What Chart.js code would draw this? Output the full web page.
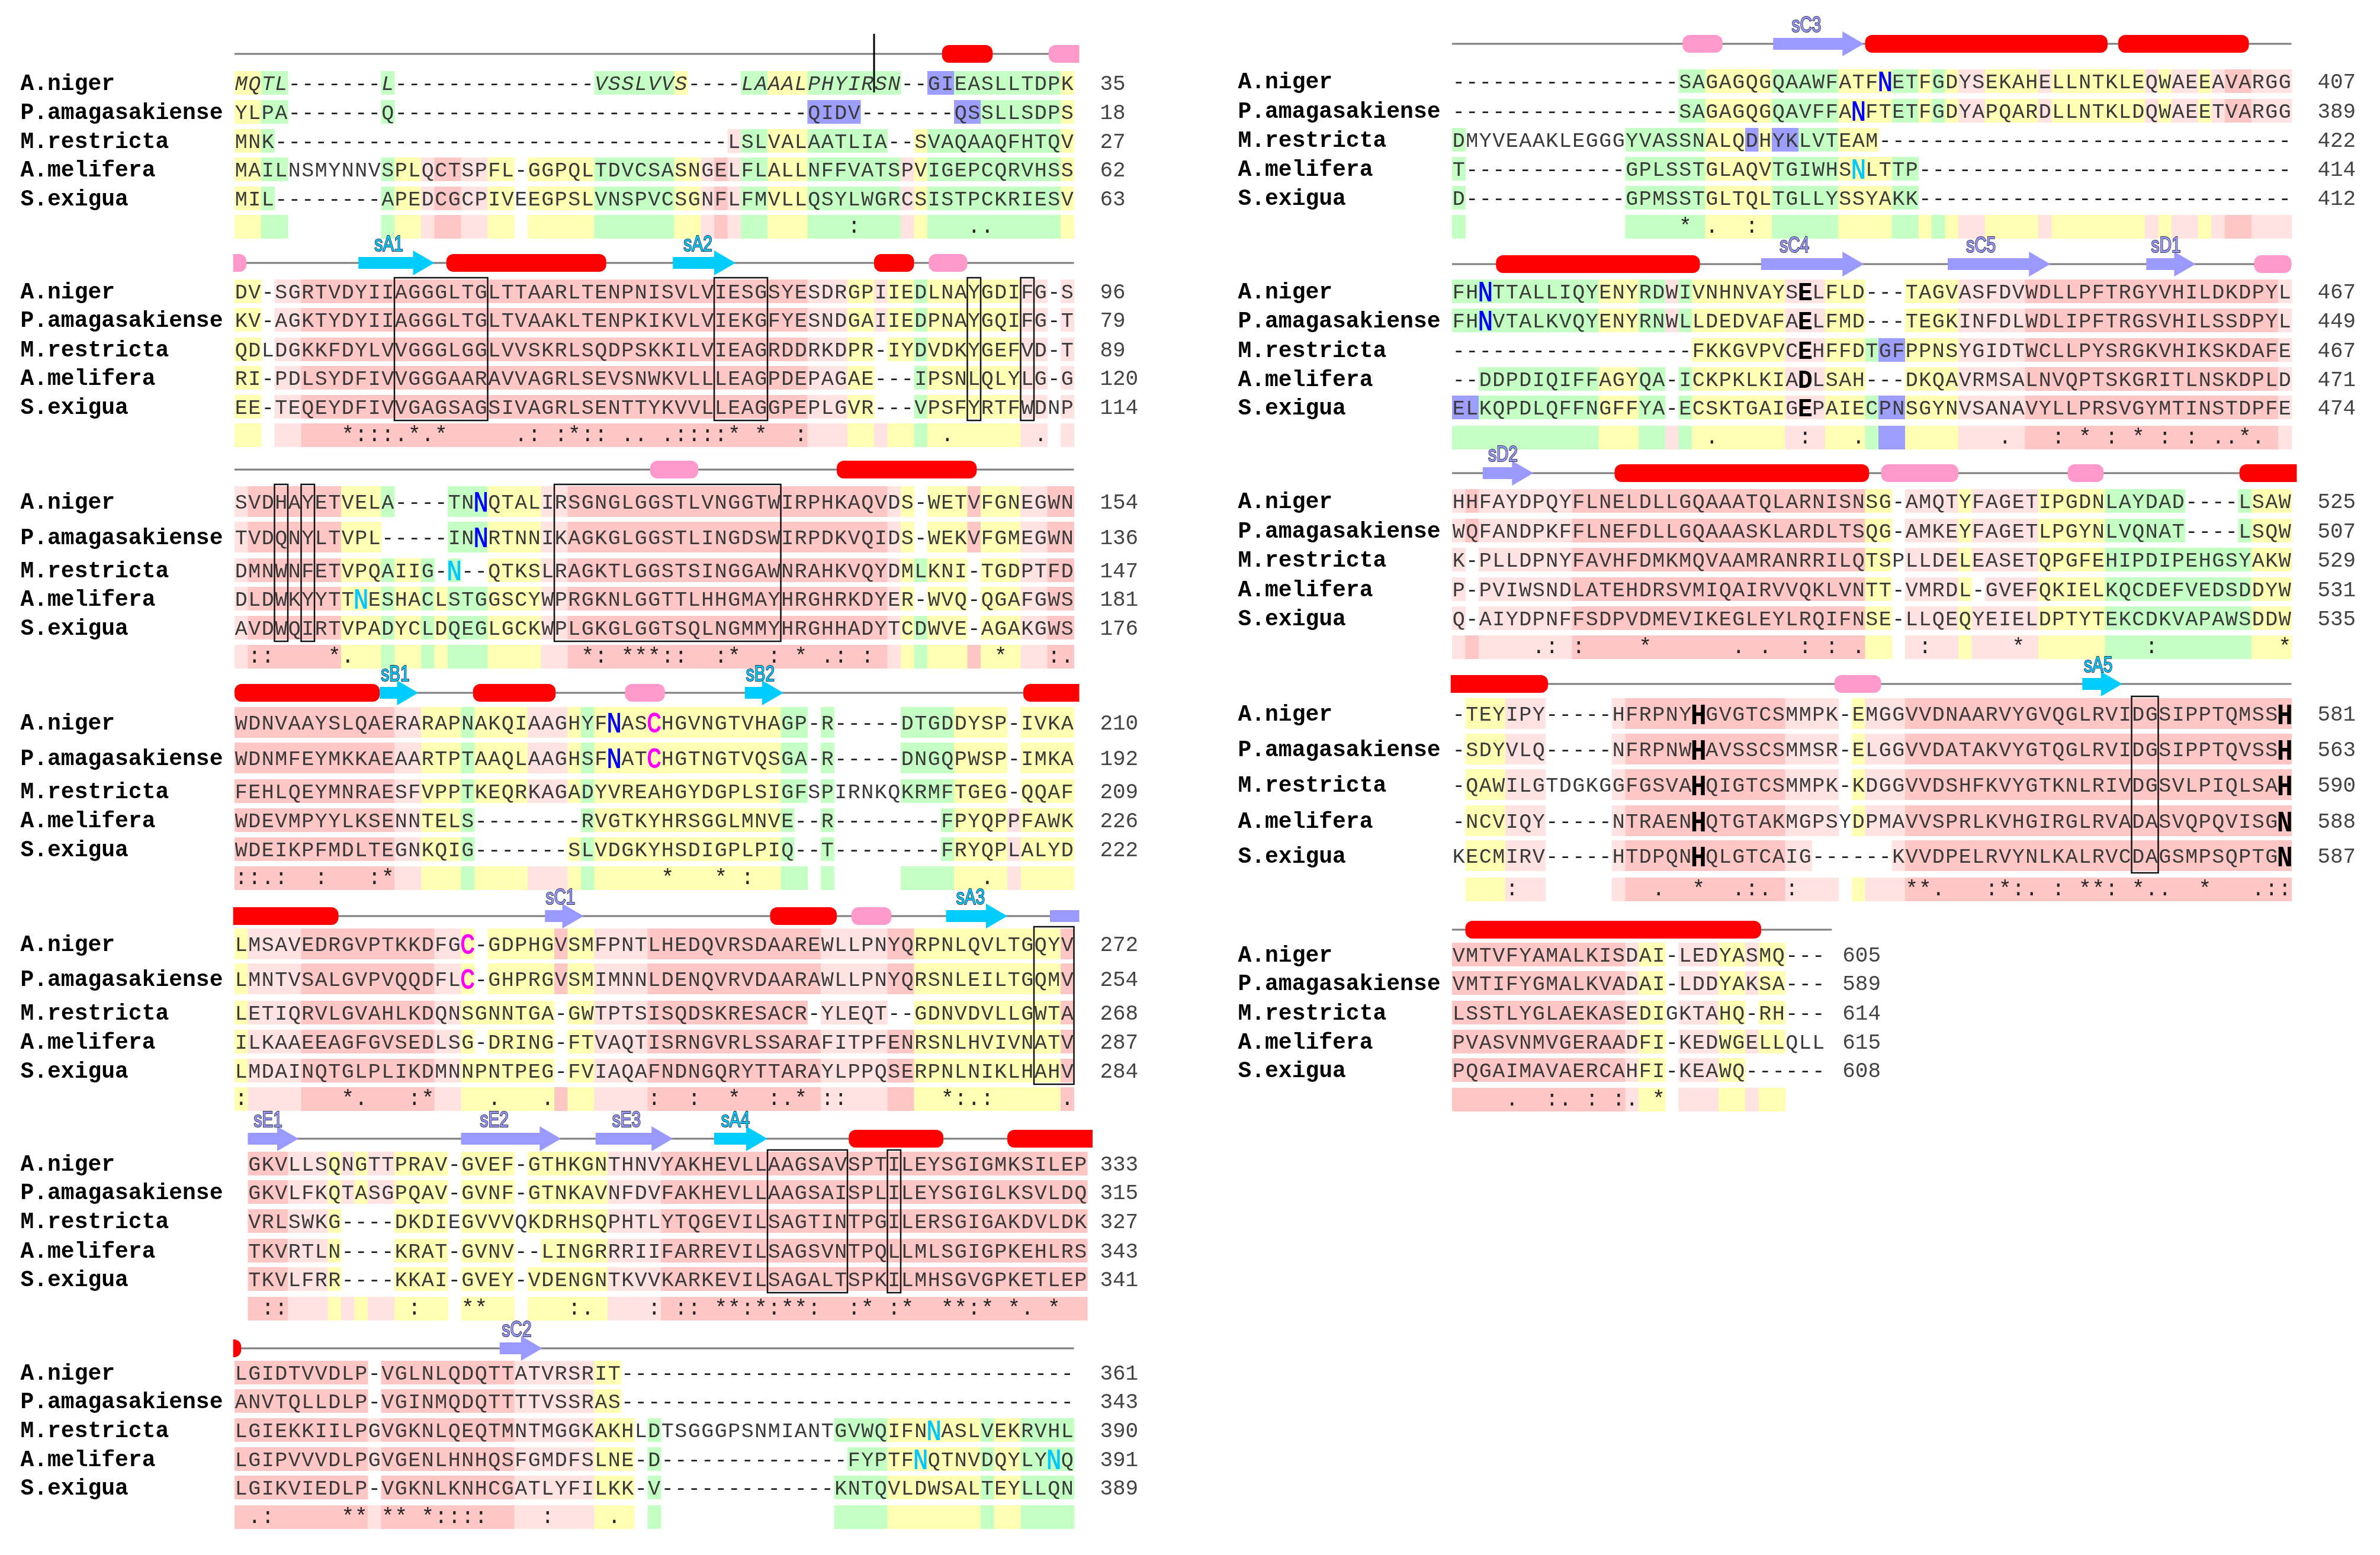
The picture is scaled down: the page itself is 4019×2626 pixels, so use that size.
<!DOCTYPE html>
<html>
<head>
  <title>Alignment figure</title>
  <script src="https://cdn.jsdelivr.net/npm/chart.js@4.4.0/dist/chart.umd.min.js"></script>
  <style>
    body { margin: 0; background: #fff; }
    #wrap { width: 4019px; height: 2626px; }
  </style>
</head>
<body>
  <div id="wrap"><canvas id="chart"></canvas></div>

  <script>
    // Sequence data. "-12" means twelve gap characters, a lone "-" is one gap.
    // Conservation rows are "column + symbol", shading rows are "code + run length".
    const species = ['A.niger', 'P.amagasakiense', 'M.restricta', 'A.melifera', 'S.exigua'];

    // ---- left panel ----
    const seqL1 = ['MQTL-7L-15VSSLVVS-4LAAALPHYIRSN-2GIEASLLTDPK', 'YLPA-7Q-31QIDV-7QSSLLSDPS', 'MNK-34LSLVALAATLIA-2SVAQAAQFHTQV',
      'MAILNSMYNNVSPLQCTSPFL-GGPQLTDVCSASNGELFLALLNFFVATSPVIGEPCQRVHSS', 'MIL-8APEDCGCPIVEEGPSLVNSPVCSGNFLFMVLLQSYLWGRCSISTPCKRIESV'];
    const endL1 = [35, 18, 27, 62, 63];
    const consL1 = '46:55.56.';
    const shadeL1 = 'Y2G2_7G1Y2p1P2p2Y2_1Y5G6Y2p1P1p1G2Y3G7p1Y1G10Y1';
    const featL1 = [['tick', 48], ['H', 53.1, 56.9], ['h', 61.1, 64.5]];

    const seqL2 = ['DV-SGRTVDYIIAGGGLTGLTTAARLTENPNISVLVIESGSYESDRGPIIEDLNAYGDIFG-S', 'KV-AGKTYDYIIAGGGLTGLTVAAKLTENPKIKVLVIEKGFYESNDGAIIEDPNAYGQIFG-T',
      'QDLDGKKFDYLVVGGGLGGLVVSKRLSQDPSKKILVIEAGRDDRKDPR-IYDVDKYGEFVD-T', 'RI-PDLSYDFIVVGGGAARAVVAGRLSEVSNWKVLLLEAGPDEPAGAE---IPSNLQLYLG-G',
      'EE-TEQEYDFIVVGAGSAGSIVAGRLSENTTYKVVLLEAGGPEPLGVR---VPSFYRTFWDNP'];
    const endL2 = [96, 79, 89, 120, 114];
    const consL2 = '8*9:10:11:12.13*14.15*21.22:24:25*26:27:29.30.32.33:34:35:36:37*39*42:53.60.';
    const shadeL2 = 'Y2_1p2P38p3Y2p1Y2G1Y7p2_1p1';
    const featL2 = [['h', -2, 0.9], ['A', 9.3, 15, 'sA1'], ['H', 15.9, 27.9], ['A', 32.9, 37.6, 'sA2'], ['H', 48, 51], ['h', 52.1, 55]];

    const seqL3 = ['SVDHAYETVELA-4TNNQTALIRSGNGLGGSTLVNGGTWIRPHKAQVDS-WETVFGNEGWN', 'TVDQNYLTVPL-5INNRTNNIKAGKGLGGSTLINGDSWIRPDKVQIDS-WEKVFGMEGWN',
      'DMNWNFETVPQAIIG-N--QTKSLRAGKTLGGSTSINGGAWNRAHKVQYDMLKNI-TGDPTFD', 'DLDWKYYTTNESHACLSTGGSCYWPRGKNLGGTTLHHGMAYHRGHRKDYER-WVQ-QGAFGWS',
      'AVDWQIRTVPADYCLDQEGLGCKWPLGKGLGGTSQLNGMMYHRGHHADYTCDWVE-AGAKGWS'];
    const endL3 = [154, 136, 147, 181, 176];
    const consL3 = '1:2:7*8.26*27:29*30*31*32:33:36:37*40:42*44.45:47:57*61:62.';
    const shadeL3 = 'p1P7Y3G1Y2G1Y1G3Y4p2P24p1Y1G1Y3P1Y3p2P2';
    const featL3 = [['h', 31.2, 34.8], ['H', 45.2, 55.7]];

    const seqL4 = ['WDNVAAYSLQAERARAPNAKQIAAGHYFNASCHGVNGTVHAGP-R-5DTGDDYSP-IVKA', 'WDNMFEYMKKAEAARTPTAAQLAAGHSFNATCHGTNGTVQSGA-R-5DNGQPWSP-IMKA',
      'FEHLQEYMNRAESFVPPTKEQRKAGADYVREAHGYDGPLSIGFSPIRNKQKRMFTGEG-QQAF', 'WDEVMPYYLKSENNTELS-8RVGTKYHRSGGLMNVE-2R-8FPYQPPFAWK',
      'WDEIKPFMDLTEGNKQIG-7SLVDGKYHSDIGPLPIQ-2T-8FRYQPLALYD'];
    const endL4 = [210, 192, 209, 226, 222];
    const consL4 = '0:1:2.3:6:10:11*32*36*38:56.';
    const shadeL4 = 'P12p2Y3G1Y4p3Y1G1Y14G2_1G1_5G4Y4p1Y4';
    const featL4 = [['H', 0, 10.9], ['A', 10.9, 13.8, 'sB1'], ['H', 17.9, 24.1], ['h', 29.3, 32.3], ['A', 38.3, 41.2, 'sB2'], ['H', 59.2, 66]];

    const seqL5 = ['LMSAVEDRGVPTKKDFGC-GDPHGVSMFPNTLHEDQVRSDAAREWLLPNYQRPNLQVLTGQYV', 'LMNTVSALGVPVQQDFLC-GHPRGVSMIMNNLDENQVRVDAARAWLLPNYQRSNLEILTGQMV',
      'LETIQRVLGVAHLKDQNSGNNTGA-GWTPTSISQDSKRESACR-YLEQT--GDNVDVLLGWTA', 'ILKAAEEAGFGVSEDLSG-DRING-FTVAQTISRNGVRLSSARAFITPFENRSNLHVIVNATV',
      'LMDAINQTGLPLIKDMNNPNTPEG-FVIAQAFNDNGQRYTTARAYLPPQSERPNLNIKLHAHV'];
    const endL5 = [272, 254, 268, 287, 284];
    const consL5 = '0:8*9.13:14*19.23.31:34:37*40:41.42*44:45:53*54:55.56:62.';
    const shadeL5 = 'Y1p4P10p2Y7P1Y2p4P13p5P2Y11P1';
    const featL5 = [['H', -5, 7.8], ['S', 23.3, 26.2, 'sC1'], ['H', 40.2, 45.2], ['h', 46.3, 49.3], ['A', 53.4, 58, 'sA3'], ['R', 61.2, 64]];

    const seqL6 = ['GKVLLSQNGTTPRAV-GVEF-GTHKGNTHNVYAKHEVLLAAGSAVSPTILEYSGIGMKSILEP', 'GKVLFKQTASGPQAV-GVNF-GTNKAVNFDVFAKHEVLLAAGSAISPLILEYSGIGLKSVLDQ',
      'VRLSWKG----DKDIEGVVVQKDRHSQPHTLYTQGEVILSAGTINTPGILERSGIGAKDVLDK', 'TKVRTLN----KRAT-GVNV--LINGRRRIIFARREVILSAGSVNTPQLLMLSGIGPKEHLRS',
      'TKVLFRR----KKAI-GVEY-VDENGNTKVVKARKEVILSAGALTSPKILMHSGVGPKETLEP'];
    const endL6 = [333, 315, 327, 343, 341];
    const consL6 = '1:2:12:16*17*24:25.30:32:33:35*36*37:38*39:40*41*42:45:46*48:49*52*53*54:55*57*58.60*';
    const shadeL6 = 'P3p3Y1p1Y1p2Y4_1Y4_1Y6p4P32';
    const featL6 = [['S', 0, 3.8, 'sE1'], ['S', 16, 23.5, 'sE2'], ['S', 26.1, 31.9, 'sE3'], ['A', 35, 39, 'sA4'], ['H', 45.1, 52.2], ['H', 57, 66]];

    const seqL7 = ['LGIDTVVDLP-VGLNLQDQTTATVRSRIT-34', 'ANVTQLLDLP-VGINMQDQTTTTVSSRAS-34',
      'LGIEKKIILPGVGKNLQEQTMNTMGGKAKHLDTSGGGPSNMIANTGVWQIFNNASLVEKRVHL', 'LGIPVVVDLPGVGENLHNHQSFGMDFSLNE-D-14FYPTFNQTNVDQYLYNQ',
      'LGIKVIEDLP-VGKNLKNHCGATLYFILKK-V-13KNTQVLDWSALTEYLLQN'];
    const endL7 = [361, 343, 390, 391, 389];
    const consL7 = '1.2:8*9*11*12*14*15:16:17:18:23:28.';
    const shadeL7 = 'P10p1P10p6Y3_1G1_13G4Y7G1Y2G4';
    const featL7 = [['H', -3, 0.5], ['S', 19.9, 23.1, 'sC2']];

    // ---- right panel ----
    const seqR1 = ['-17SAGAGQGQAAWFATFNETFGDYSEKAHELLNTKLEQWAEEAVARGG', '-17SAGAGQGQAVFFANFTETFGDYAPQARDLLNTKLDQWAEETVARGG',
      'DMYVEAAKLEGGGYVASSNALQDHYKLVTEAM-31', 'T-12GPLSSTGLAQVTGIWHSNLTTP-28', 'D-12GPMSSTGLTQLTGLLYSSYAKK-28'];
    const endR1 = [407, 389, 422, 414, 412];
    const consR1 = '17*19.22:';
    const shadeR1 = 'G1_12G6Y5G5Y4G2Y1G1Y1p2Y4p1Y7p1Y1p2Y1p1P2p3';
    const featR1 = [['h', 17.3, 20.3], ['S', 24.1, 30.9, 'sC3'], ['H', 31, 49.2], ['H', 50, 59.8]];

    const seqR2 = ['FHNTTALLIQYENYRDWIVNHNVAYSELFLD---TAGVASFDVWDLLPFTRGYVHILDKDPYL', 'FHNVTALKVQYENYRNWLLDEDVAFAELFMD---TEGKINFDLWDLIPFTRGSVHILSSDPYL',
      '-18FKKGVPVCEHFFDTGFPPNSYGIDTWCLLPYSRGKVHIKSKDAFE', '--DDPDIQIFFAGYQA-ICKPKLKIADLSAH---DKQAVRMSALNVQPTSKGRITLNSKDPLD',
      'ELKQPDLQFFNGFFYA-ECSKTGAIGEPAIECPNSGYNVSANAVYLLPRSVGYMTINSTDPFE'];
    const endR2 = [467, 449, 467, 471, 474];
    const consR2 = '19.26:30.41.45:47*49:51*53:55:57.58.59*60.';
    const shadeR2 = 'G11Y3G2p1G1Y7p3Y3G1B2Y4p5P19p1';
    const featR2 = [['H', 3.3, 18.6], ['S', 23.2, 30.9, 'sC4'], ['S', 37.2, 44.9, 'sC5'], ['S', 52.1, 55.8, 'sD1'], ['h', 60.2, 63]];

    const seqR3 = ['HHFAYDPQYFLNELDLLGQAAATQLARNISNSG-AMQTYFAGETIPGDNLAYDAD----LSAW', 'WQFANDPKFFLNEFDLLGQAAASKLARDLTSQG-AMKEYFAGETLPGYNLVQNAT----LSQW',
      'K-PLLDPNYFAVHFDMKMQVAAMRANRRILQTSPLLDELEASETQPGFEHIPDIPEHGSYAKW', 'P-PVIWSNDLATEHDRSVMIQAIRVVQKLVNTT-VMRDL-GVEFQKIELKQCDEFVEDSDDYW',
      'Q-AIYDPNFFSDPVDMEVIKEGLEYLRQIFNSE-LLQEQYEIELDPTYTEKCDKVAPAWSDDW'];
    const endR3 = [525, 507, 529, 531, 535];
    const consR3 = '6.7:9:14*21.23.26:28:30.35:42*52:62*';
    const shadeR3 = 'p1P1p7P22Y2_1p4Y1p5Y5G11Y3';
    const featR3 = [['S', 2.3, 6.1, 'sD2'], ['H', 12.2, 31.3], ['h', 32.2, 38], ['h', 46.2, 48.9], ['H', 59.1, 66]];

    const seqR4 = ['-TEYIPY-5HFRPNYHGVGTCSMMPK-EMGGVVDNAARVYGVQGLRVIDGSIPPTQMSSH', '-SDYVLQ-5NFRPNWHAVSSCSMMSR-ELGGVVDATAKVYGTQGLRVIDGSIPPTQVSSH',
      '-QAWILGTDGKGGFGSVAHQIGTCSMMPK-KDGGVVDSHFKVYGTKNLRIVDGSVLPIQLSAH', '-NCVIQY-5NTRAENHQTGTAKMGPSYDPMAVVSPRLKVHGIRGLRVADASVQPQVISGN',
      'KECMIRV-5HTDPQNHQLGTCAIG-6KVVDPELRVYNLKALRVCDAGSMPSQPTGN'];
    const endR4 = [581, 563, 590, 588, 587];
    const consR4 = '4:15.18*21.22:23.25:34*35*36.40:41*42:43.45:47*48*49:51*52.53.56*60.61:62:';
    const shadeR4 = '_1Y3p3_5p1P12p4_1Y1p3P29';
    const featR4 = [['H', -5, 7.2], ['h', 28.7, 32.2], ['A', 47.3, 50.3, 'sA5']];

    const seqR5 = ['VMTVFYAMALKISDAI-LEDYASMQ---', 'VMTIFYGMALKVADAI-LDDYAKSA---', 'LSSTLYGLAEKASEDIGKTAHQ-RH---',
      'PVASVNMVGERAADFI-KEDWGELLQLL', 'PQGAIMAVAERCAHFI-KEAWQ------'];
    const endR5 = [605, 589, 614, 615, 608];
    const consR5 = '4.7:8.10:12:13.15*';
    const shadeR5 = 'P13p1Y2_1p3Y2p1Y2_3';
    const featR5 = [['H', 1, 23.2]];

    // [block, row, first column, last column] drawn on a purple cell
    const purpleCells = [[0, 0, 52, 53], [0, 1, 43, 46], [0, 1, 54, 55], [7, 2, 22, 22], [7, 2, 24, 25],
      [8, 2, 32, 33], [8, 4, 0, 1], [8, 4, 32, 33]];
    // [block, row, column, style] enlarged residues
    const bigGlyphs = [[2, 0, 18, 'n'], [2, 1, 18, 'n'], [2, 2, 16, 'c'], [2, 3, 9, 'c'],
      [3, 0, 28, 'n'], [3, 1, 28, 'n'], [3, 0, 31, 'm'], [3, 1, 31, 'm'], [4, 0, 17, 'm'], [4, 1, 17, 'm'],
      [6, 2, 52, 'c'], [6, 3, 51, 'c'], [6, 3, 61, 'c'], [7, 0, 32, 'n'], [7, 1, 30, 'n'], [7, 3, 30, 'c'],
      [8, 0, 2, 'n'], [8, 1, 2, 'n'], [8, 0, 26, 'k'], [8, 1, 26, 'k'], [8, 2, 26, 'k'], [8, 3, 26, 'k'], [8, 4, 26, 'k'],
      [10, 0, 18, 'K'], [10, 1, 18, 'K'], [10, 2, 18, 'K'], [10, 3, 18, 'K'], [10, 4, 18, 'K'],
      [10, 0, 62, 'K'], [10, 1, 62, 'K'], [10, 2, 62, 'K'], [10, 3, 62, 'K'], [10, 4, 62, 'K']];
    // [block, first column, last column] outlined motifs
    const boxes = [[1, 12, 18], [1, 36, 39], [1, 55, 55], [1, 59, 59], [2, 3, 3], [2, 5, 5], [2, 24, 40],
      [4, 60, 62], [5, 39, 44], [5, 48, 48], [10, 51, 52]];

    const blocks = [
      { panel: 0, shift: 0, seq: seqL1, end: endL1, cons: consL1, shade: shadeL1, feat: featL1 },
      { panel: 0, shift: 0, seq: seqL2, end: endL2, cons: consL2, shade: shadeL2, feat: featL2 },
      { panel: 0, shift: 0, seq: seqL3, end: endL3, cons: consL3, shade: shadeL3, feat: featL3 },
      { panel: 0, shift: 0, seq: seqL4, end: endL4, cons: consL4, shade: shadeL4, feat: featL4 },
      { panel: 0, shift: 0, seq: seqL5, end: endL5, cons: consL5, shade: shadeL5, feat: featL5 },
      { panel: 0, shift: 1, seq: seqL6, end: endL6, cons: consL6, shade: shadeL6, feat: featL6 },
      { panel: 0, shift: 0, seq: seqL7, end: endL7, cons: consL7, shade: shadeL7, feat: featL7 },
      { panel: 1, shift: 0, seq: seqR1, end: endR1, cons: consR1, shade: shadeR1, feat: featR1 },
      { panel: 1, shift: 0, seq: seqR2, end: endR2, cons: consR2, shade: shadeR2, feat: featR2 },
      { panel: 1, shift: 0, seq: seqR3, end: endR3, cons: consR3, shade: shadeR3, feat: featR3 },
      { panel: 1, shift: 0, seq: seqR4, end: endR4, cons: consR4, shade: shadeR4, feat: featR4 },
      { panel: 1, shift: 0, seq: seqR5, end: endR5, cons: consR5, shade: shadeR5, feat: featR5 }
    ];

    // ---- layout (y in page units, x in alignment columns) ----
    const PANEL_X = [0, 91.378];
    const TALL = [52, 52, 40, 40, 40];
    const layout = [
      { feat: 91, rows: [140, 189, 238, 286, 335], cons: 383 },
      { feat: 444, rows: [492, 540, 590, 638, 687], cons: 735 },
      { feat: 793, rows: [847, 907, 963, 1011, 1060], cons: 1109, h: TALL },
      { feat: 1170, rows: [1220, 1280, 1336, 1385, 1434], cons: 1483, h: TALL },
      { feat: 1547, rows: [1594, 1653, 1710, 1759, 1808], cons: 1856, h: TALL },
      { feat: 1923, rows: [1965, 2013, 2062, 2112, 2160], cons: 2210 },
      { feat: 2277, rows: [2318, 2366, 2415, 2464, 2512], cons: 2562 },
      { feat: 74, rows: [137, 187, 236, 285, 334], cons: 383 },
      { feat: 446, rows: [492, 541, 591, 640, 688], cons: 739 },
      { feat: 799, rows: [846, 896, 945, 995, 1044], cons: 1093 },
      { feat: 1155, rows: [1205, 1265, 1325, 1386, 1445], cons: 1502, h: [52, 52, 52, 52, 52] },
      { feat: 1570, rows: [1612, 1660, 1710, 1759, 1807], cons: 1857 }
    ];

    const SHADE = { P: '#ffc6c6', p: '#ffe2e2', Y: '#ffffb4', G: '#c4ffc4', B: '#9e9eff' };
    const GLYPH = {
      n: { font: 'bold 48px "Liberation Sans"', color: '#0000ff', sx: 0.7, dy: 17 },
      c: { font: 'bold 48px "Liberation Sans"', color: '#00c8ff', sx: 0.7, dy: 17 },
      m: { font: 'bold 48px "Liberation Sans"', color: '#ff00ff', sx: 0.7, dy: 17 },
      k: { font: 'bold 44px "Liberation Mono"', color: '#000000', sx: 0.95, dy: 15 },
      K: { font: 'bold 50px "Liberation Mono"', color: '#000000', sx: 0.9, dy: 18 }
    };

    const expandSeq = s => s.replace(/-(\d+)/g, (m, n) => '-'.repeat(+n));
    const expandRuns = s => {
      let out = '';
      s.replace(/([A-Za-z_])(\d+)/g, (m, c, n) => { out += c.repeat(+n); return m; });
      return out;
    };
    const parseCons = s => {
      const o = {};
      s.replace(/(\d+)([*:.])/g, (m, i, c) => { o[+i] = c; return m; });
      return o;
    };

    function roundRect(ctx, x, y, w, h, r) {
      r = Math.min(r, w / 2, h / 2);
      ctx.beginPath();
      ctx.moveTo(x + r, y);
      ctx.arcTo(x + w, y, x + w, y + h, r);
      ctx.arcTo(x + w, y + h, x, y + h, r);
      ctx.arcTo(x, y + h, x, y, r);
      ctx.arcTo(x, y, x + w, y, r);
      ctx.closePath();
    }

    // draws the whole alignment through the chart's x and y scales
    const alignmentPlugin = {
      id: 'alignment',
      afterDraw(chart) {
        const ctx = chart.ctx;
        const xs = chart.scales.x, ys = chart.scales.y;
        const cw = xs.getPixelForValue(1) - xs.getPixelForValue(0);
        const glyphAt = {};
        bigGlyphs.forEach(([b, r, c, s]) => { glyphAt[b + ',' + r + ',' + c] = s; });

        blocks.forEach((b, bi) => {
          const lay = layout[bi];
          const X = c => xs.getPixelForValue(PANEL_X[b.panel] + b.shift + c);
          const XP = c => xs.getPixelForValue(PANEL_X[b.panel] + c);
          const Y = v => ys.getPixelForValue(v);
          const seqs = b.seq.map(expandSeq);
          const shade = expandRuns(b.shade);
          const cons = parseCons(b.cons);
          const width = seqs[0].length;
          const hts = lay.h || [40, 40, 40, 40, 40];
          ctx.save();

          // residue shading
          seqs.forEach((s, r) => {
            const yc = Y(lay.rows[r]), h = hts[r];
            for (let c = 0; c < width; c++) {
              if (s[c] === '-' || !SHADE[shade[c]]) continue;
              ctx.fillStyle = SHADE[shade[c]];
              ctx.fillRect(X(c), yc - h / 2, cw + 0.6, h);
            }
          });
          purpleCells.filter(p => p[0] === bi).forEach(([, r, c0, c1]) => {
            ctx.fillStyle = SHADE.B;
            ctx.fillRect(X(c0), Y(lay.rows[r]) - hts[r] / 2, X(c1 + 1) - X(c0), hts[r]);
          });
          const yCons = Y(lay.cons);
          for (let c = 0; c < width; c++) {
            if (!SHADE[shade[c]]) continue;
            ctx.fillStyle = SHADE[shade[c]];
            ctx.fillRect(X(c), yCons - 20, cw + 0.6, 40);
          }

          // secondary structure track
          const yf = Y(lay.feat);
          ctx.strokeStyle = '#7c7c7c';
          ctx.lineWidth = 3;
          ctx.beginPath();
          ctx.moveTo(X(0), yf);
          ctx.lineTo(X(Math.min(63, width + 0.5)), yf);
          ctx.stroke();
          ctx.save();
          ctx.beginPath();
          ctx.rect(X(-0.1), yf - 40, X(63.4) - X(-0.1), 80);
          ctx.clip();
          b.feat.forEach(f => {
            const [type, s, e] = f;
            if (type === 'tick') return;
            const x1 = X(s), x2 = X(e);
            if (type === 'H' || type === 'h') {
              ctx.fillStyle = type === 'H' ? '#ff0000' : '#ff99cc';
              roundRect(ctx, x1, yf - 15, x2 - x1, 30, 12);
              ctx.fill();
            } else if (type === 'R') {
              ctx.fillStyle = '#9999ff';
              ctx.fillRect(x1, yf - 10, x2 - x1, 20);
            } else {
              const head = Math.min(1.6 * cw, (x2 - x1) * 0.6);
              ctx.fillStyle = type === 'A' ? '#00ccff' : '#9999ff';
              ctx.beginPath();
              ctx.moveTo(x1, yf - 10);
              ctx.lineTo(x2 - head, yf - 10);
              ctx.lineTo(x2 - head, yf - 21);
              ctx.lineTo(x2, yf);
              ctx.lineTo(x2 - head, yf + 21);
              ctx.lineTo(x2 - head, yf + 10);
              ctx.lineTo(x1, yf + 10);
              ctx.closePath();
              ctx.fill();
            }
          });
          ctx.restore();
          b.feat.forEach(f => {
            if (f[0] === 'tick') {
              ctx.strokeStyle = '#000';
              ctx.lineWidth = 3;
              ctx.beginPath();
              ctx.moveTo(X(f[1]), yf - 34);
              ctx.lineTo(X(f[1]), Y(lay.rows[0]) + 16);
              ctx.stroke();
            } else if (f[3]) {
              const cx = X(f[1] + Math.min(2.5, (f[2] - f[1]) * 0.4));
              ctx.save();
              ctx.translate(cx, yf - 20);
              ctx.scale(0.78, 1.05);
              ctx.font = '36px "Liberation Sans"';
              ctx.textAlign = 'center';
              ctx.lineWidth = 2;
              ctx.strokeStyle = '#334';
              ctx.strokeText(f[3], 0, 0);
              ctx.fillStyle = f[0] === 'A' ? '#00ccff' : '#9999ff';
              ctx.fillText(f[3], 0, 0);
              ctx.restore();
            }
          });

          // motif boxes
          boxes.filter(bx => bx[0] === bi).forEach(([, c0, c1]) => {
            const top = Y(lay.rows[0]) - hts[0] / 2 - 3, bot = Y(lay.rows[4]) + hts[4] / 2 + 3;
            ctx.strokeStyle = '#111';
            ctx.lineWidth = 2.5;
            ctx.strokeRect(X(c0), top, X(c1 + 1) - X(c0), bot - top);
          });

          // residues and conservation symbols
          ctx.textAlign = 'center';
          ctx.textBaseline = 'alphabetic';
          seqs.forEach((s, r) => {
            const yc = Y(lay.rows[r]);
            for (let c = 0; c < width; c++) {
              const g = glyphAt[bi + ',' + r + ',' + c];
              if (g) {
                const st = GLYPH[g];
                ctx.save();
                ctx.translate(X(c + 0.5), yc + st.dy);
                ctx.scale(st.sx, 1);
                ctx.font = st.font;
                ctx.fillStyle = st.color;
                ctx.fillText(s[c], 0, 0);
                ctx.restore();
                continue;
              }
              const italic = bi === 0 && r === 0 && c < 50;
              ctx.font = (italic ? 'italic ' : '') + '35px "Liberation Mono"';
              ctx.fillStyle = s[c] === '-' ? '#222' : '#3a3a3a';
              ctx.fillText(s[c], X(c + 0.5), yc + 12);
            }
          });
          ctx.font = '36px "Liberation Mono"';
          ctx.fillStyle = '#222';
          Object.keys(cons).forEach(c => {
            ctx.fillText(cons[c], X(+c + 0.5), yCons + 10);
          });

          // species names and residue counts
          ctx.textAlign = 'left';
          const numCol = width === 63 ? 64.95 : width + 1.3;
          species.forEach((name, r) => {
            const yc = Y(lay.rows[r]);
            ctx.font = 'bold 38px "Liberation Mono"';
            ctx.fillStyle = '#000';
            ctx.fillText(name, XP(-16.07), yc + 12);
            ctx.font = '36px "Liberation Mono"';
            ctx.fillStyle = '#444';
            ctx.fillText(String(b.end[r]), XP(numCol), yc + 12);
          });
          ctx.restore();
        });
      }
    };

    const chartCanvas = document.getElementById('chart');
    window.myChart = new Chart(chartCanvas, {
      type: 'scatter',
      data: { datasets: [] },
      options: {
        responsive: true,
        maintainAspectRatio: false,
        animation: false,
        events: [],
        layout: { padding: 0 },
        plugins: { legend: { display: false }, tooltip: { enabled: false } },
        scales: {
          x: { type: 'linear', display: false, min: -17.6, max: 161.022 },
          y: { type: 'linear', display: false, min: 0, max: 2626, reverse: true }
        }
      },
      plugins: [alignmentPlugin]
    });
  </script>
</body>
</html>
